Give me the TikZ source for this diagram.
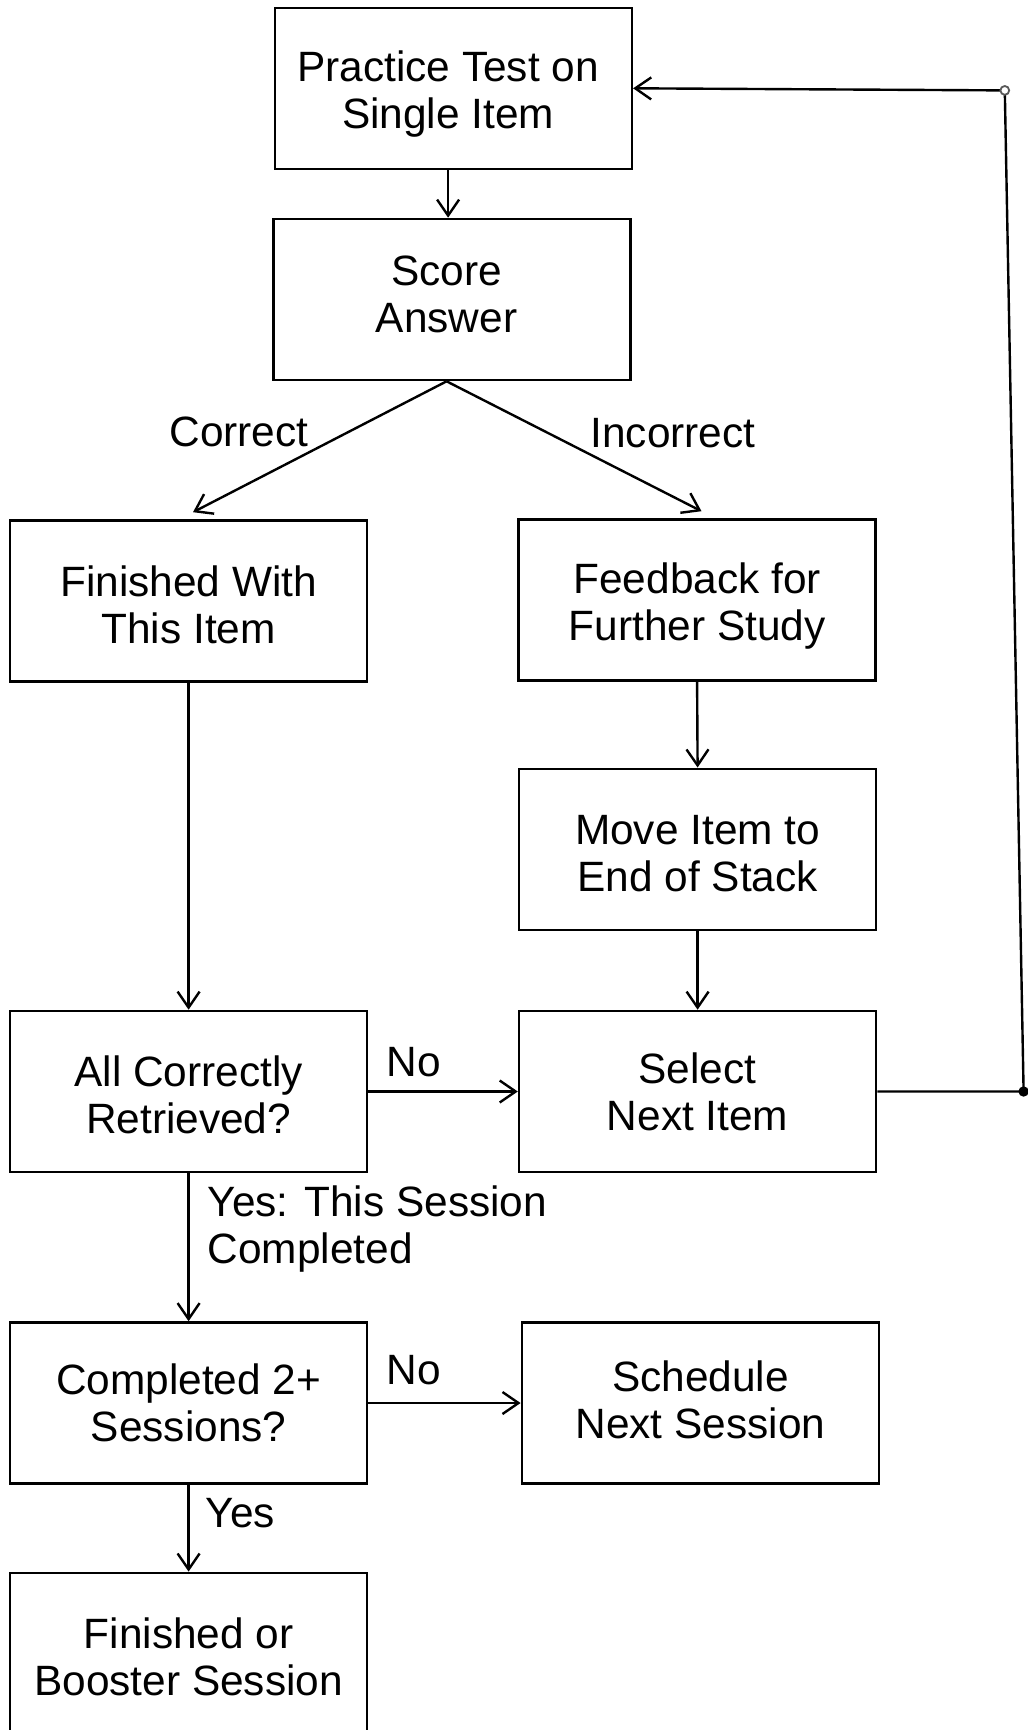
\documentclass[tikz,border=0pt]{standalone}
\usepackage{fontspec}
\setmainfont{Liberation Sans}
\usetikzlibrary{arrows.meta}
\begin{document}
\begin{tikzpicture}[x=0.5pt,y=-0.5pt,
  txt/.style={font=\fontsize{21.2}{23.6}\selectfont, inner sep=0pt, align=center},
  box/.style={draw, line width=1.3pt, minimum width=178.5pt, minimum height=80.5pt},
  lbl/.style={txt},
  flow/.style={line width=1.2pt, -{Straight Barb[length=8pt,width=11pt,line width=1.2pt]}}]
\useasboundingbox (0,0) rectangle (1028,1730);

% boxes (frame and caption as separate nodes so the caption can be nudged)
\node[box] (p1)    at (453.3,88.3)   {};
\node[box] (score) at (452.2,299.5)  {};
\node[box] (fin)   at (188.6,601)    {};
\node[box] (feed)  at (697.1,600)    {};
\node[box] (move)  at (697.6,849.3)  {};
\node[box] (allc)  at (188.6,1091.5) {};
\node[box] (sel)   at (697.6,1091.5) {};
\node[box] (comp)  at (188.6,1403)   {};
\node[box] (sched) at (700.4,1403)   {};
\node[box] (boost) at (188.6,1653.4) {};

\node[txt] (p1t)    at ([xshift=-2.6pt,yshift=-2.7pt]p1.center)  {Practice Test on\\Single Item};
\node[txt] (scoret) at ([xshift=-2.8pt,yshift=2.4pt]score.center) {Score\\Answer};
\node[txt] (fint)   at ([yshift=-1.9pt]fin.center)   {Finished With\\This Item};
\node[txt] (feedt)  at ([yshift=-3.2pt]feed.center)  {Feedback for\\Further Study};
\node[txt] (movet)  at ([yshift=-2.2pt]move.center)  {Move Item to\\End of Stack};
\node[txt] (allct)  at ([yshift=-1.6pt]allc.center)  {All Correctly\\Retrieved?};
\node[txt] (selt)   at (sel.center)                  {Select\\Next Item};
\node[txt] (compt)  at (comp.center)                 {Completed 2+\\Sessions?};
\node[txt] (schedt) at ([yshift=1.4pt]sched.center)  {Schedule\\Next Session};
\node[txt] (boostt) at ([yshift=-1.9pt]boost.center) {Finished or\\Booster Session};

% branch point under the score box and loop-back corners
\coordinate (split) at (scoret |- score.south);
\coordinate (c1) at (1023.6,1091.5);
\coordinate (c2) at (1004.8,90.4);

% connectors
\draw[flow] (p1t |- p1.south) -- (p1t |- score.north);
\draw[flow] (split) -- ([xshift=2.2pt,yshift=3.5pt]fin.north);
\draw[flow] (split) -- ([xshift=2.2pt,yshift=3.5pt]feed.north);
\draw[flow] (fin.south) -- (allc.north);
\draw[flow] (feed.south) -- (move.north);
\draw[flow] (move.south) -- (sel.north);
\draw[flow] (allc.east) -- (sel.west);
\draw[flow] (allc.south) -- (comp.north);
\draw[flow] (comp.east) -- (sched.west);
\draw[flow] (comp.south) -- (boost.north);
\draw[flow] (sel.east) -- (c1) -- (c2) -- (p1.east);
\fill (c1) circle (2.6pt);
\draw[line width=0.9pt, black!65, fill=white] (c2) circle (2.2pt);

% connector labels
\node[lbl] (lcorrect)   at (239,432)    {Correct};
\node[lbl] (lincorrect) at (673,433.5)  {Incorrect};
\node[lbl] (lno1)       at (413.6,1062) {No};
\node[lbl, anchor=west, align=left] (lyes1) at (207.4,1228.8) {Yes: This Session\\Completed};
\node[lbl] (lno2)       at (413.6,1370) {No};
\node[lbl] (lyes2)      at (240.5,1513) {Yes};
\end{tikzpicture}
\end{document}
